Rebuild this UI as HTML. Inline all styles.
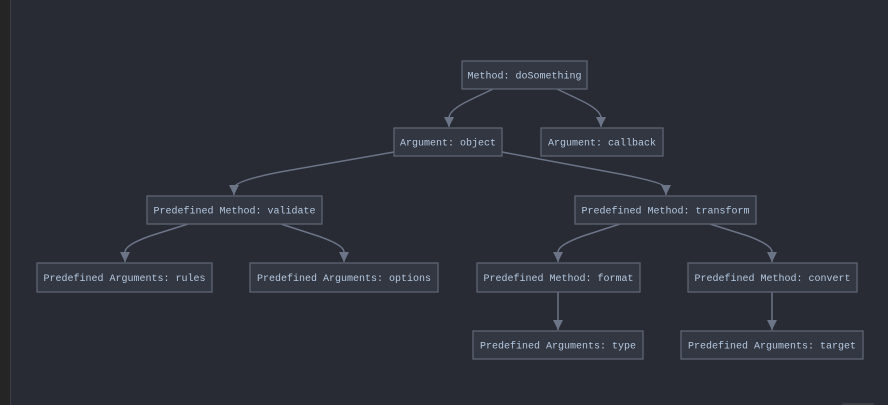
<!DOCTYPE html>
<html><head><meta charset="utf-8"><style>
html,body{margin:0;padding:0;width:888px;height:405px;overflow:hidden;background:#282b33}
svg{position:absolute;left:0;top:0}
text{font-family:"Liberation Mono",monospace;font-size:10px;fill:#b4c8e0}
rect.n{fill:#333741;stroke:#5d6473;stroke-width:1.3}
path.e{fill:none;stroke:#6c7488;stroke-width:1.5}
</style></head><body>
<svg width="888" height="405" viewBox="0 0 888 405">
<rect x="0" y="0" width="10" height="405" fill="#252525"/>
<rect x="10" y="0" width="1" height="405" fill="#3a3d44"/>
<defs><marker id="a" markerWidth="10" markerHeight="10" refX="5" refY="9" orient="auto" markerUnits="userSpaceOnUse" viewBox="0 0 10 10">
<path d="M0,0 L10,0 L5,10 z" fill="#6c7488" transform="rotate(0)"/></marker></defs>
<g>
<path class="e" d="M493,89 L470,100 Q449,110 449,118 L449,127"/>
<path d="M444,117 L454,117 L449,127 z" fill="#6c7488"/>
<path class="e" d="M557,89 L580,100 Q601,110 601,118 L601,127"/>
<path d="M596,117 L606,117 L601,127 z" fill="#6c7488"/>
<path class="e" d="M394,152 L280,172 Q234,181 234,188 L234,195"/>
<path d="M229,185 L239,185 L234,195 z" fill="#6c7488"/>
<path class="e" d="M502,152 L620,174 Q666,183 666,188 L666,195"/>
<path d="M661,185 L671,185 L666,195 z" fill="#6c7488"/>
<path class="e" d="M188,224 L150,236 Q125,245 125,252 L125,262"/>
<path d="M120,252 L130,252 L125,262 z" fill="#6c7488"/>
<path class="e" d="M281,224 L318,236 Q344,245 344,252 L344,262"/>
<path d="M339,252 L349,252 L344,262 z" fill="#6c7488"/>
<path class="e" d="M620,224 L583,236 Q558,245 558,252 L558,262"/>
<path d="M553,252 L563,252 L558,262 z" fill="#6c7488"/>
<path class="e" d="M710,224 L748,236 Q772,245 772,252 L772,262"/>
<path d="M767,252 L777,252 L772,262 z" fill="#6c7488"/>
<path class="e" d="M558,292 L558,330"/>
<path d="M553,320 L563,320 L558,330 z" fill="#6c7488"/>
<path class="e" d="M772,292 L772,330"/>
<path d="M767,320 L777,320 L772,330 z" fill="#6c7488"/>
</g>
<rect class="n" x="462" y="61" width="125" height="28"/><text x="524.5" y="78.5" text-anchor="middle">Method: doSomething</text>
<rect class="n" x="394" y="128" width="108" height="28"/><text x="448" y="145.5" text-anchor="middle">Argument: object</text>
<rect class="n" x="541" y="128" width="122" height="28"/><text x="602" y="145.5" text-anchor="middle">Argument: callback</text>
<rect class="n" x="147" y="196" width="175" height="28"/><text x="234.5" y="213.5" text-anchor="middle">Predefined Method: validate</text>
<rect class="n" x="575" y="196" width="181" height="28"/><text x="665.5" y="213.5" text-anchor="middle">Predefined Method: transform</text>
<rect class="n" x="37" y="263" width="175" height="29"/><text x="124.5" y="281" text-anchor="middle">Predefined Arguments: rules</text>
<rect class="n" x="250" y="263" width="188" height="29"/><text x="344" y="281" text-anchor="middle">Predefined Arguments: options</text>
<rect class="n" x="477" y="263" width="163" height="29"/><text x="558.5" y="281" text-anchor="middle">Predefined Method: format</text>
<rect class="n" x="688" y="263" width="169" height="29"/><text x="772.5" y="281" text-anchor="middle">Predefined Method: convert</text>
<rect class="n" x="473" y="331" width="170" height="28"/><text x="558" y="348.5" text-anchor="middle">Predefined Arguments: type</text>
<rect class="n" x="681" y="331" width="182" height="28"/><text x="772" y="348.5" text-anchor="middle">Predefined Arguments: target</text>
<rect x="842" y="403" width="32" height="2" fill="#3a3d44"/>
</svg>
</body></html>
